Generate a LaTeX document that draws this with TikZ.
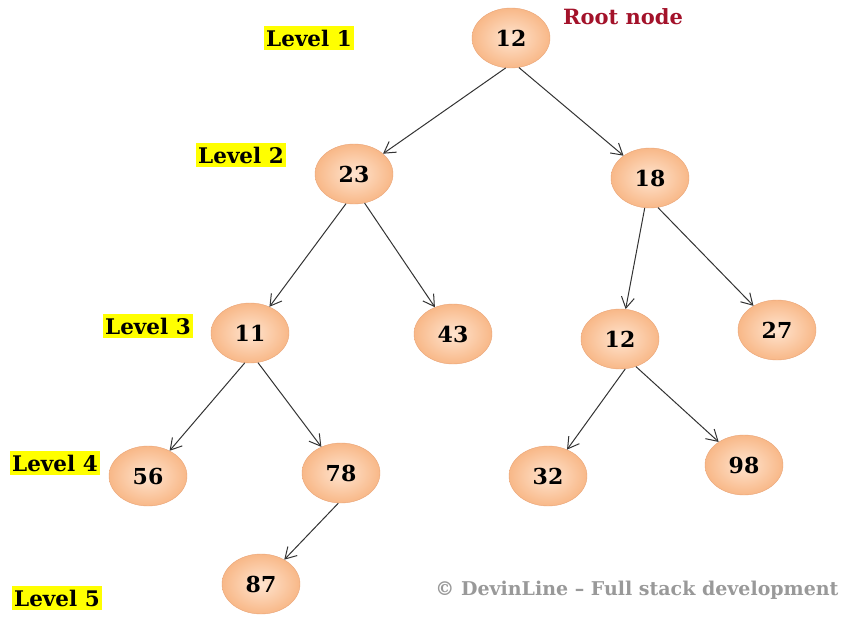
\documentclass[tikz,border=0pt]{standalone}
\usepackage{fontspec}
\setmainfont{DejaVu Serif}
\usetikzlibrary{arrows.meta, shapes.geometric}

\definecolor{nodeborder}{HTML}{E9A477}
\definecolor{nodeinner}{HTML}{FFE4CF}
\definecolor{nodeouter}{HTML}{F8B888}
\definecolor{rootred}{HTML}{A3122A}
\definecolor{levelyellow}{HTML}{FFFF00}

\tikzset{
    treenode/.style={ellipse, draw=nodeborder, thin, inner color=nodeinner, outer color=nodeouter,
        minimum width=78pt, minimum height=60pt, font=\bfseries\fontsize{22}{22}\selectfont},
    levellabel/.style={fill=levelyellow, inner xsep=2pt, inner ysep=4pt, font=\bfseries\fontsize{21.5}{21.5}\selectfont},
    treeedge/.style={draw=black!80, line width=1pt, -{Straight Barb[length=11pt,width=13pt,line width=1pt]}}
}

\begin{document}
\begin{tikzpicture}[x=1pt, y=-1pt]
\useasboundingbox (0,0) rectangle (841,621);

% tree nodes
\node[treenode] (n12)  at (511,38)  {12};
\node[treenode] (n23)  at (354,174) {23};
\node[treenode] (n18)  at (650,178) {18};
\node[treenode] (n11)  at (250,333) {11};
\node[treenode] (n43)  at (453,334) {43};
\node[treenode] (n12b) at (620,339) {12};
\node[treenode] (n27)  at (777,330) {27};
\node[treenode] (n56)  at (148,476) {56};
\node[treenode] (n78)  at (341,473) {78};
\node[treenode] (n32)  at (548,476) {32};
\node[treenode] (n98)  at (744,465) {98};
\node[treenode] (n87)  at (261,584) {87};

% levels
\node[levellabel] (L1) at (309,38)  {Level 1};
\node[levellabel] (L2) at (241,155) {Level 2};
\node[levellabel] (L3) at (148,326) {Level 3};
\node[levellabel] (L4) at (55,463)  {Level 4};
\node[levellabel] (L5) at (57,598)  {Level 5};

\node[text=rootred, font=\bfseries\fontsize{21}{21}\selectfont] (root) at (623,17) {Root node};
\node[text=black!40, font=\bfseries\fontsize{19}{19}\selectfont] (credit) at (637,590) {© DevinLine – Full stack development};

% edges
\foreach \a/\b in {n12.-100/n23, n12.-75/n18, n23.-105/n11, n23.-70/n43, n18.-100/n12b, n18.-75/n27,
    n11.-100/n56, n11.-75/n78, n12b.-80/n32, n12b.-60/n98, n78.-95/n87}
{
    \draw[treeedge] (\a) -- (\b);
}
\end{tikzpicture}
\end{document}
